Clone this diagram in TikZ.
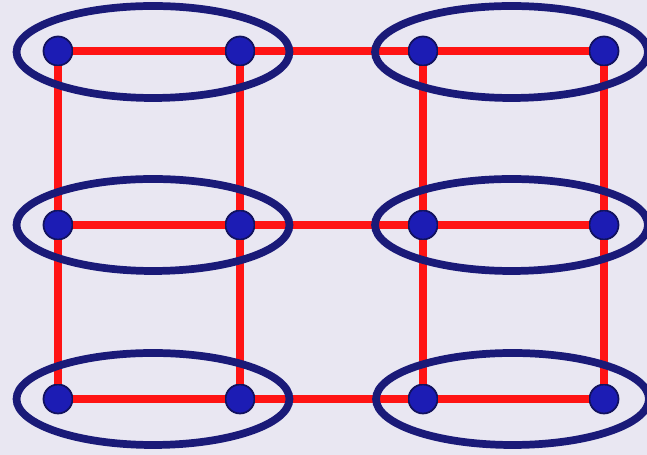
\documentclass[tikz,border=0pt]{standalone}
\usepackage{xcolor}
\usepackage{tikz}
\usetikzlibrary{shapes.geometric, calc}
\definecolor{bgcol}{HTML}{E9E7F2}
\definecolor{linkcol}{HTML}{FF1414}
\definecolor{dotfill}{HTML}{1C1CB4}
\definecolor{dotedge}{HTML}{12125E}
\definecolor{ringcol}{HTML}{1A1A78}
\tikzset{
  dot/.style={circle, draw=dotedge, fill=dotfill, line width=1pt,
    minimum size=0.58cm, inner sep=0pt},
  link/.style={draw=linkcol, line width=4pt},
  pair/.style={ellipse, draw=ringcol, line width=4.4pt, inner sep=0pt,
    minimum width=5.46cm, minimum height=1.84cm}
}
\begin{document}
\begin{tikzpicture}[x=0.02cm, y=-0.02cm]
\fill[bgcol] (0,0) rectangle (647,455);
\useasboundingbox (0,0) rectangle (647,455);

\node (a1) [dot] at (58,51)  {};
\node (b1) [dot] at (240,51) {};
\node (c1) [dot] at (423,51) {};
\node (d1) [dot] at (604,51) {};
\node (a2) [dot] at (58,225)  {};
\node (b2) [dot] at (240,225) {};
\node (c2) [dot] at (423,225) {};
\node (d2) [dot] at (604,225) {};
\node (a3) [dot] at (58,399)  {};
\node (b3) [dot] at (240,399) {};
\node (c3) [dot] at (423,399) {};
\node (d3) [dot] at (604,399) {};

% grid lines
\draw [link] (a1) -- (b1);
\draw [link] (b1) -- (c1);
\draw [link] (c1) -- (d1);
\draw [link] (a2) -- (b2);
\draw [link] (b2) -- (c2);
\draw [link] (c2) -- (d2);
\draw [link] (a3) -- (b3);
\draw [link] (b3) -- (c3);
\draw [link] (c3) -- (d3);
\draw [link] (a1) -- (a2);
\draw [link] (a2) -- (a3);
\draw [link] (b1) -- (b2);
\draw [link] (b2) -- (b3);
\draw [link] (c1) -- (c2);
\draw [link] (c2) -- (c3);
\draw [link] (d1) -- (d2);
\draw [link] (d2) -- (d3);

% pairs
\node (ab1) [pair] at ($(a1)!0.5!(b1)+(4,1)$) {};
\node (cd1) [pair] at ($(c1)!0.5!(d1)+(-2,1)$) {};
\node (ab2) [pair] at ($(a2)!0.5!(b2)+(4,0)$) {};
\node (cd2) [pair] at ($(c2)!0.5!(d2)+(-2,0)$) {};
\node (ab3) [pair] at ($(a3)!0.5!(b3)+(4,0)$) {};
\node (cd3) [pair] at ($(c3)!0.5!(d3)+(-1,0)$) {};
\end{tikzpicture}
\end{document}
